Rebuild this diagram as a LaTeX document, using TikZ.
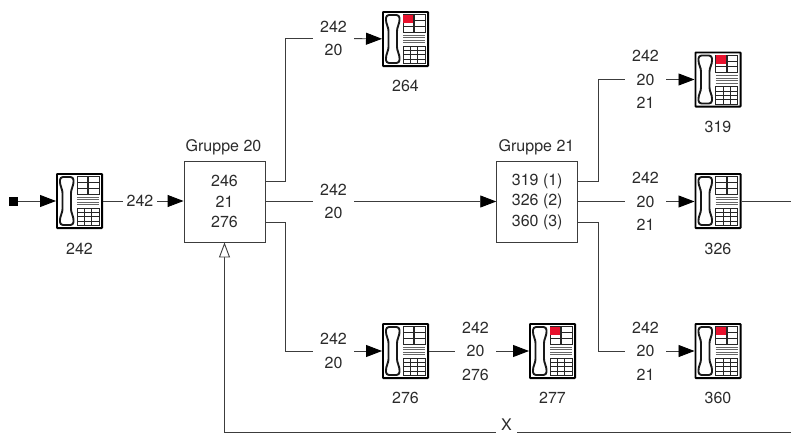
\documentclass[tikz,border=0pt]{standalone}
\usepackage{fontspec}
\setmainfont{TeX Gyre Heros}
\usetikzlibrary{arrows.meta}
\definecolor{inkdark}{HTML}{2B2B2B}
\definecolor{wiregray}{HTML}{3C3C3C}
\definecolor{keyred}{HTML}{E8112D}

\begin{document}
\begin{tikzpicture}[
  x=1pt, y=-1pt,
  font=\fontsize{16}{23.5}\selectfont, text=inkdark,
  num/.style={inner sep=0pt},
  via/.style 2 args={inner sep=0pt, align=center, minimum width=#1, minimum height=#2},
  grp/.style={draw=wiregray, line width=0.9pt, minimum size=81pt, inner sep=0pt, align=center,
              font=\fontsize{16}{20.5}\selectfont},
  src/.style={fill=black, minimum size=9pt, inner sep=0pt},
  wire/.style={line width=0.9pt, color=wiregray},
  arr/.style={wire, -{Triangle[length=16pt, width=12pt, color=black]}},
  openarr/.style={wire, -{Triangle[open, length=15pt, width=11pt, fill=white]}},
  keys/.style={line width=0.8pt, color=black!85},
  pics/phone/.style={code={
    \node[draw=black, line width=1.8pt, rounded corners=0.6pt, minimum width=45.2pt, minimum height=54.2pt,
          inner sep=0pt] (box) at (0,0) {};
    % handset
    \draw[line width=1.9pt, color=black!90, rounded corners=3pt]
      (-19.5,-24) -- (-6,-24) -- (-6,-16) -- (-8.5,-11) -- (-8.5,11) -- (-6,16) -- (-6,24)
      -- (-19.5,24) -- (-19.5,16) -- (-17,11) -- (-17,-11) -- (-19.5,-16) -- cycle;
    % upper keys
    \draw[keys] (-2.3,-24.5) rectangle (8.2,-7);
    \draw[keys] (9.2,-24.5) rectangle (19.5,-7);
    \foreach \ky in {-18.6,-12.8} {
      \draw[keys] (-2.3,\ky) -- (8.2,\ky);
      \draw[keys] (9.2,\ky) -- (19.5,\ky);
    }
    \path[fill=#1] (-2.3,-24.2) rectangle (7.8,-16);
    % display lines
    \foreach \ky in {-3.6,-1.2,1.2,3.6}
      \draw[line width=1pt, color=black!60] (-2.3,\ky) -- (19.5,\ky);
    % lower keys
    \draw[keys] (-2.3,7) rectangle (19.5,24.5);
    \foreach \kx in {5,12.2}
      \draw[keys] (\kx,7) -- (\kx,24.5);
    \foreach \ky in {11.4,15.8,20.2}
      \draw[keys] (-2.3,\ky) -- (19.5,\ky);
  }},
  pics/phone/.default=none
]
  \useasboundingbox (0,0) rectangle (791,434);

  % ── phones ──────────────────────────────────────────────────────────────
  \pic (p242) at (79.5,201) {phone};
  \pic (p264) at (405.5,39) {phone=keyred};
  \pic (p276) at (405.5,351) {phone};
  \pic (p277) at (552.5,351) {phone=keyred};
  \pic (p319) at (718,79.5) {phone=keyred};
  \pic (p326) at (718,201) {phone};
  \pic (p360) at (718,351) {phone=keyred};

  \node[num] (n242) at (79.5,249)  {242};
  \node[num] (n264) at (405.5,86)  {264};
  \node[num] (n276) at (405.5,398) {276};
  \node[num] (n277) at (552.5,398) {277};
  \node[num] (n319) at (718,126.5) {319};
  \node[num] (n326) at (718,249)   {326};
  \node[num] (n360) at (718,398)   {360};

  % ── groups ──────────────────────────────────────────────────────────────
  \node[grp] (g20) at (224.5,201.5) {246\\21\\276};
  \node[grp] (g21) at (537.2,201.5) {319 (1)\\326 (2)\\360 (3)};
  \node[num] (t20) at (223.5,147) {Gruppe 20};
  \node[num] (t21) at (536.5,147) {Gruppe 21};

  \coordinate (g20a) at ([yshift=20.5pt]g20.east);
  \coordinate (g20b) at ([yshift=-20.5pt]g20.east);
  \coordinate (g21a) at ([yshift=20.5pt]g21.east);
  \coordinate (g21b) at ([yshift=-20.5pt]g21.east);

  % ── call data on the lines ──────────────────────────────────────────────
  \node[src] (start) at (13.5,201) {};
  \node[via={34pt}{12pt}] (v242) at (140,201) {242};
  \node[via={41pt}{12pt}] (v264) at (333.5,38.5) {242\\20};
  \node[via={41pt}{12pt}] (vmid) at (333.5,201.5) {242\\20};
  \node[via={41pt}{12pt}] (v276) at (333.5,351) {242\\20};
  \node[via={41pt}{12pt}] (v277) at (475.5,351) {242\\20\\276};
  \node[via={41pt}{12pt}] (v319) at (645.5,79.5) {242\\20\\21};
  \node[via={41pt}{12pt}] (v326) at (645.5,201.5) {242\\20\\21};
  \node[via={41pt}{12pt}] (v360) at (645.5,351) {242\\20\\21};
  \node[via={21pt}{11pt}] (vx) at (506.5,424.5) {X};
  \coordinate (xend) at (791,432.5);
  \coordinate (outend) at (791,201);

  % ── connectors ──────────────────────────────────────────────────────────
  \draw[arr]  (start) -- (p242box);
  \draw[wire] (p242box) -- (v242);
  \draw[arr]  (v242) -- (g20.west |- v242);

  \draw[wire] (g20a) -- ++(20.3,0) |- (v264);
  \draw[arr]  (v264) -- (p264box);
  \draw[wire] (g20.east) -- (vmid);
  \draw[arr]  (vmid) -- (g21);
  \draw[wire] (g20b) -- ++(20.3,0) |- (v276);
  \draw[arr]  (v276) -- (p276box);
  \draw[wire] (p276box) -- (v277);
  \draw[arr]  (v277) -- (p277box);

  \draw[wire] (g21a) -- ++(20.3,0) |- (v319);
  \draw[arr]  (v319) -- (p319box);
  \draw[wire] (g21.east) -- (v326);
  \draw[arr]  (v326) -- (p326box.west |- v326);
  \draw[wire] (g21b) -- ++(20.3,0) |- (v360);
  \draw[arr]  (v360) -- (p360box);
  \draw[wire] (p326box) -- (outend);

  \draw[wire] (xend) -- (vx.east |- xend);
  \draw[openarr] (vx.west |- xend) -| (g20.south);
\end{tikzpicture}
\end{document}
